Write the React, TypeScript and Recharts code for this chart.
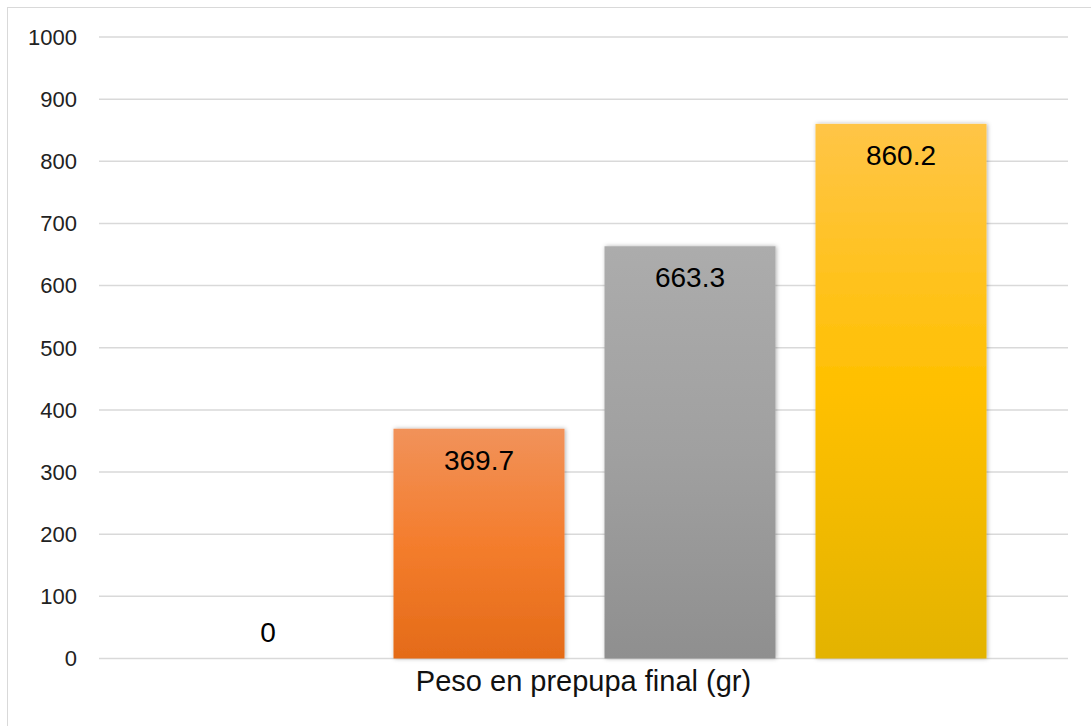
import { BarChart, Bar, XAxis, YAxis, CartesianGrid, LabelList } from "recharts";

const categories = ["Peso en prepupa final (gr)"];
const seriesKeys = ["s1", "s2", "s3", "s4"];
const seriesValues = [0, 369.7, 663.3, 860.2];
const yTicks = [0, 100, 200, 300, 400, 500, 600, 700, 800, 900, 1000];

// one gradient per series: [top, middle, bottom]
const fills = [
  ["#6a8fd4", "#4472c4", "#3a63ad"],
  ["#f1925a", "#f47d2d", "#e46b18"],
  ["#acacac", "#a0a0a0", "#8f8f8f"],
  ["#ffc547", "#ffc000", "#e3b300"],
];

const data = categories.map((name) => {
  const row: Record<string, string | number> = { name };
  seriesKeys.forEach((k, i) => {
    row[k] = seriesValues[i];
  });
  return row;
});

const FONT = "'Liberation Sans', Arial, sans-serif";

// value label sits inside the bar top, or just above when the bar is too short
const renderValue = (props: any) => {
  const { x, y, width, height, value } = props;
  const cx = Number(x) + Number(width) / 2;
  const inside = Number(height) > 45;
  const ty = inside ? Number(y) + 41 : Number(y) - 17;
  return (
    <text
      x={cx}
      y={ty}
      textAnchor="middle"
      fontSize={28}
      fontFamily={FONT}
      fill="#000"
    >
      {value}
    </text>
  );
};

const shadedBar = (i: number) => (props: any) => {
  const { x, y, width, height } = props;
  if (!height || height <= 0) return <g />;
  return (
    <rect
      x={x}
      y={y}
      width={width}
      height={height}
      fill={`url(#grad${i})`}
      filter="url(#barShadow)"
    />
  );
};

export default function App() {
  return (
    <div
      style={{
        position: "absolute",
        left: 0,
        top: 0,
        width: 1091,
        height: 726,
        overflow: "hidden",
        background: "#fff",
      }}
    >
      <div
        style={{
          position: "absolute",
          left: 7,
          top: 7,
          width: 1110,
          height: 740,
          border: "1.3px solid #d9d9d9",
          boxSizing: "border-box",
        }}
      />
      <div style={{ position: "absolute", left: 0, top: 0 }}>
        <BarChart
          width={1091}
          height={726}
          data={data}
          margin={{ top: 37, right: 23, left: 0, bottom: 17.5 }}
          barCategoryGap={83.5}
          barGap={40}
        >
          <defs>
            {fills.map((c, i) => (
              <linearGradient key={i} id={`grad${i}`} x1="0" y1="0" x2="0" y2="1">
                <stop offset="0%" stopColor={c[0]} />
                <stop offset="50%" stopColor={c[1]} />
                <stop offset="100%" stopColor={c[2]} />
              </linearGradient>
            ))}
            <filter id="barShadow" x="-10%" y="-5%" width="120%" height="110%">
              <feDropShadow dx="1" dy="0" stdDeviation="2" floodColor="#000" floodOpacity="0.3" />
            </filter>
          </defs>
          <CartesianGrid vertical={false} stroke="#d9d9d9" strokeWidth={1.5} />
          <XAxis
            dataKey="name"
            height={50}
            axisLine={false}
            tickLine={false}
            tickMargin={6}
            tick={{ fontSize: 29, fontFamily: FONT, fill: "#111" }}
          />
          <YAxis
            width={99}
            domain={[0, 1000]}
            ticks={yTicks}
            axisLine={false}
            tickLine={false}
            tickMargin={16}
            tick={{ fontSize: 22, fontFamily: FONT, fill: "#222" }}
          />
          {seriesKeys.map((k, i) => (
            <Bar
              key={k}
              dataKey={k}
              fill={fills[i][1]}
              shape={shadedBar(i)}
              isAnimationActive={false}
            >
              <LabelList dataKey={k} content={renderValue} />
            </Bar>
          ))}
        </BarChart>
      </div>
    </div>
  );
}
